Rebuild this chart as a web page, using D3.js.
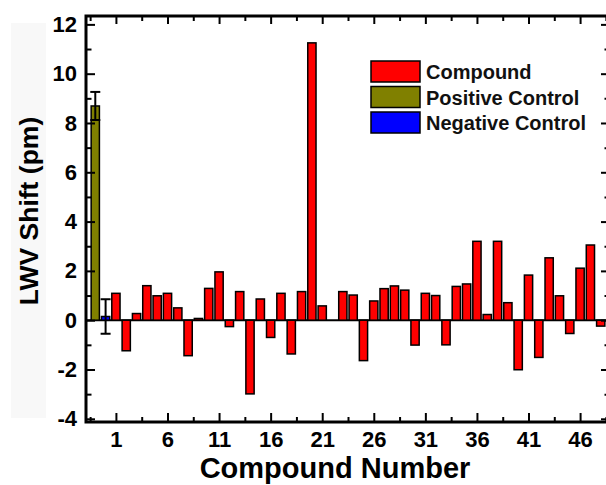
<!DOCTYPE html>
<html lang="en">
    <head>
        <meta charset="utf-8">
        <script type="text/javascript" src="https://cdn.jsdelivr.net/npm/d3@7"></script>
        <style type="text/css">

            body {
              margin: 0;
              background: #ffffff;
            }

            svg {
              font-family: "Liberation Sans", Arial, sans-serif;
              font-weight: bold;
              overflow: hidden;
            }

            .bar {
              stroke: black;
              stroke-width: 1.5;
            }

            .tick line {
              stroke: black;
              stroke-width: 2;
            }

            .tick text {
              font-size: 22px;
              fill: black;
            }

        </style>
    </head>
    <body>
        <script type="text/javascript" >
            // compound numbers and their LWV shift (pm)
            var compounds = [1, 2, 3, 4, 5, 6, 7, 8, 9, 10, 11, 12, 13, 14, 15, 16,
                             17, 18, 19, 20, 21, 22, 23, 24, 25, 26, 27, 28, 29, 30, 31, 32,
                             33, 34, 35, 36, 37, 38, 39, 40, 41, 42, 43, 44, 45, 46, 47, 48];
            var shifts = [1.09, -1.24, 0.27, 1.40, 0.99, 1.09, 0.50, -1.44, 0.07, 1.29, 1.96, -0.26,
                          1.16, -2.99, 0.86, -0.70, 1.09, -1.37, 1.16, 11.25, 0.58, 0, 1.16, 1.02,
                          -1.64, 0.78, 1.28, 1.39, 1.22, -1.01, 1.09, 1.00, -1.00, 1.37, 1.47, 3.20,
                          0.23, 3.20, 0.71, -2.01, 1.83, -1.51, 2.53, 0.99, -0.54, 2.11, 3.05, -0.24];

            // controls: position, mean and error
            var controlNames = ["Positive Control", "Negative Control"];
            var controlPos = [-1, 0];
            var controlShift = [8.69, 0.15];
            var controlErr = [0.57, 0.70];

            // tick labels
            var xTicks = [1, 6, 11, 16, 21, 26, 31, 36, 41, 46];
            var xMinor = [-1.5, 3.5, 8.5, 13.5, 18.5, 23.5, 28.5, 33.5, 38.5, 43.5, 48.5];
            var yTicks = [-4, -2, 0, 2, 4, 6, 8, 10, 12];
            var yMinor = [-3, -1, 1, 3, 5, 7, 9, 11];

            var legendNames = ["Compound", "Positive Control", "Negative Control"];
            var legendColors = ["#ff0000", "#808000", "#0000ff"];

            var w = 606, h = 485;

            var xScale = d3.scaleLinear().domain([-1.9, 48.9]).range([86, 610]);
            var yScale = d3.scaleLinear().domain([-4.13, 12.34]).range([422, 16]);

            var svg = d3.select("body")
              .append("svg")
              .attr("width", w)
              .attr("height", h);

            // faint box behind the y label
            svg.append("rect")
              .attr("x", 11).attr("y", 23)
              .attr("width", 35).attr("height", 395)
              .attr("fill", "#f8f8f8");

            var barW = xScale(0.8) - xScale(0);

            // zero line
            svg.append("line")
              .attr("x1", xScale(-1.9)).attr("x2", xScale(48.9))
              .attr("y1", yScale(0)).attr("y2", yScale(0))
              .attr("stroke", "black")
              .attr("stroke-width", 2);

            // compound bars
            svg.selectAll(".cbar")
              .data(shifts)
              .enter()
              .append("rect")
              .attr("class", "bar cbar")
              .attr("fill", legendColors[0])
              .attr("x", function(d, i) { return xScale(compounds[i]) - barW / 2; })
              .attr("y", function(d) { return yScale(Math.max(d, 0)); })
              .attr("width", barW)
              .attr("height", function(d) { return Math.abs(yScale(d) - yScale(0)); });

            // control bars
            svg.selectAll(".kbar")
              .data(controlShift)
              .enter()
              .append("rect")
              .attr("class", "bar kbar")
              .attr("fill", function(d, i) { return legendColors[i + 1]; })
              .attr("x", function(d, i) { return xScale(controlPos[i]) - barW / 2; })
              .attr("y", function(d) { return yScale(d); })
              .attr("width", barW)
              .attr("height", function(d) { return yScale(0) - yScale(d); });

            // error bars of the controls
            var err = svg.selectAll(".err")
              .data(controlShift)
              .enter()
              .append("g")
              .attr("class", "err")
              .attr("stroke", "black")
              .attr("stroke-width", 2);

            err.append("line")
              .attr("x1", function(d, i) { return xScale(controlPos[i]); })
              .attr("x2", function(d, i) { return xScale(controlPos[i]); })
              .attr("y1", function(d, i) { return yScale(d - controlErr[i]); })
              .attr("y2", function(d, i) { return yScale(d + controlErr[i]); });

            [-1, 1].forEach(function(s) {
              err.append("line")
                .attr("x1", function(d, i) { return xScale(controlPos[i]) - 5; })
                .attr("x2", function(d, i) { return xScale(controlPos[i]) + 5; })
                .attr("y1", function(d, i) { return yScale(d + s * controlErr[i]); })
                .attr("y2", function(d, i) { return yScale(d + s * controlErr[i]); });
            });

            // plain hyphen for negative labels, like the original
            var plain = function(d) { return String(d); };

            // axes with inward ticks
            svg.append("g")
              .attr("transform", "translate(0," + yScale(-4.13) + ")")
              .call(d3.axisBottom(xScale).tickValues(xTicks).tickSize(-9).tickPadding(9).tickFormat(plain).tickSizeOuter(0));
            svg.append("g")
              .attr("transform", "translate(0," + yScale(-4.13) + ")")
              .call(d3.axisBottom(xScale).tickValues(xMinor).tickSize(-5).tickFormat("").tickSizeOuter(0));
            svg.append("g")
              .attr("transform", "translate(0," + yScale(12.34) + ")")
              .call(d3.axisTop(xScale).tickValues(xTicks).tickSize(-8).tickFormat("").tickSizeOuter(0));
            svg.append("g")
              .attr("transform", "translate(0," + yScale(12.34) + ")")
              .call(d3.axisTop(xScale).tickValues(xMinor).tickSize(-5).tickFormat("").tickSizeOuter(0));

            svg.append("g")
              .attr("transform", "translate(" + xScale(-1.9) + ",0)")
              .call(d3.axisLeft(yScale).tickValues(yTicks).tickSize(-9).tickPadding(9).tickFormat(plain).tickSizeOuter(0));
            svg.append("g")
              .attr("transform", "translate(" + xScale(-1.9) + ",0)")
              .call(d3.axisLeft(yScale).tickValues(yMinor).tickSize(-5.5).tickFormat("").tickSizeOuter(0));
            svg.append("g")
              .attr("transform", "translate(" + xScale(48.9) + ",0)")
              .call(d3.axisRight(yScale).tickValues(yTicks).tickSize(-9).tickFormat("").tickSizeOuter(0));
            svg.append("g")
              .attr("transform", "translate(" + xScale(48.9) + ",0)")
              .call(d3.axisRight(yScale).tickValues(yMinor).tickSize(-5.5).tickFormat("").tickSizeOuter(0));

            svg.selectAll(".domain").remove();

            // thick frame
            svg.append("rect")
              .attr("x", xScale(-1.9)).attr("y", yScale(12.34))
              .attr("width", xScale(48.9) - xScale(-1.9))
              .attr("height", yScale(-4.13) - yScale(12.34))
              .attr("fill", "none")
              .attr("stroke", "black")
              .attr("stroke-width", 3);

            // legend
            var legend = svg.selectAll(".legend")
              .data(legendNames)
              .enter()
              .append("g")
              .attr("class", "legend")
              .attr("transform", function(d, i) { return "translate(371," + (61 + i * 25.5) + ")"; });

            legend.append("rect")
              .attr("width", 49).attr("height", 21)
              .attr("fill", function(d, i) { return legendColors[i]; })
              .attr("stroke", "black")
              .attr("stroke-width", 1.5);

            legend.append("text")
              .attr("x", 55).attr("y", 18)
              .style("font-size", "20px")
              .attr("fill", "#111")
              .text(function(d) { return d; });

            // axis titles
            svg.append("text")
              .attr("x", 335).attr("y", 478)
              .attr("text-anchor", "middle")
              .style("font-size", "29px")
              .text("Compound Number");

            svg.append("text")
              .attr("transform", "translate(38,211) rotate(-90)")
              .attr("text-anchor", "middle")
              .style("font-size", "26.5px")
              .text("LWV Shift (pm)");
        </script>
    </body>
</html>
